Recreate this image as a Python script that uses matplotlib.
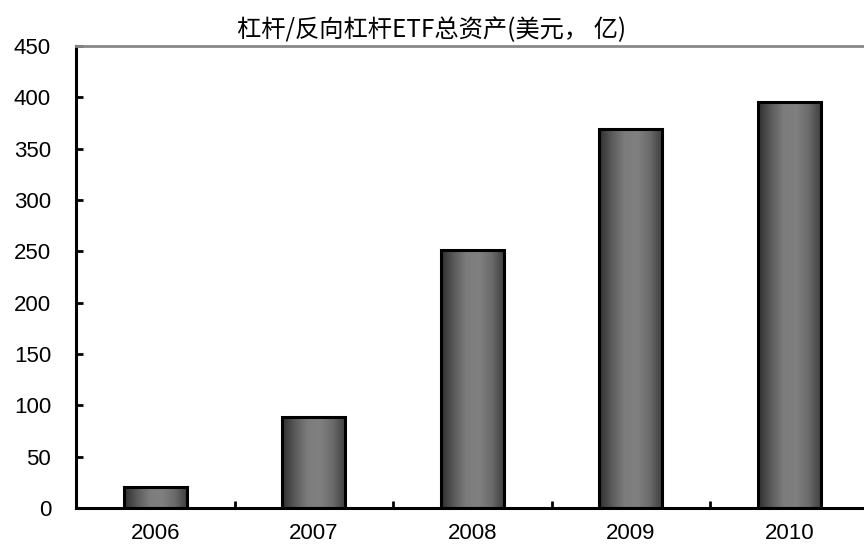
import numpy as np
import matplotlib
matplotlib.use("Agg")
import matplotlib.pyplot as plt
from matplotlib.colors import LinearSegmentedColormap

years = ["2006", "2007", "2008", "2009", "2010"]
assets = [20, 89, 251, 369, 395]
yticks = [0, 50, 100, 150, 200, 250, 300, 350, 400, 450]
title = "杠杆/反向杠杆ETF总资产(美元， 亿)"

plt.rcParams["font.family"] = ["Liberation Sans", "Noto Sans CJK SC", "DejaVu Sans"]

fig = plt.figure(figsize=(8.64, 5.52), dpi=100)
ax = fig.add_axes([76 / 864, 44 / 552, 792.5 / 864, 462 / 552])

x = np.arange(len(years))
bar_w = 0.40
bars = ax.bar(x, assets, width=bar_w, color="none", edgecolor="black",
              linewidth=2.2, zorder=3)

# horizontal gray gradient: dark edges, lighter centre
shade = LinearSegmentedColormap.from_list(
    "shade", ["#2e2e2e", "#5a5a5a", "#7c7c7c", "#808080", "#6a6a6a", "#3c3c3c"])
grad = np.linspace(0, 1, 256).reshape(1, -1)
for rect in bars:
    x0, w, h = rect.get_x(), rect.get_width(), rect.get_height()
    im = ax.imshow(grad, cmap=shade, aspect="auto",
                   extent=[x0, x0 + w, 0, h], zorder=2)
    im.set_clip_path(rect)

ax.set_xlim(-0.5, len(years) - 0.5)
ax.set_ylim(0, 450)
ax.set_yticks(yticks)
ax.set_yticklabels([str(v) for v in yticks], fontsize=16)
ax.set_xticks(x)
ax.set_xticklabels(years, fontsize=16)
ax.set_xticks(np.arange(len(years) + 1) - 0.5, minor=True)

ax.tick_params(axis="y", direction="in", length=5, width=2, pad=18)
ax.tick_params(axis="x", which="major", length=0, pad=11)
ax.tick_params(axis="x", which="minor", direction="in", length=5, width=2)

for side in ("left", "bottom"):
    ax.spines[side].set_linewidth(2.2)
    ax.spines[side].set_color("black")
ax.spines["top"].set_color("#888888")
ax.spines["top"].set_linewidth(2)
ax.spines["right"].set_visible(False)

fig.text(0.5, 1 - 30 / 552, title, ha="center", va="center", fontsize=17.5,
         family=["Noto Sans CJK SC", "DejaVu Sans"])

fig.savefig("out.png", dpi=100)
